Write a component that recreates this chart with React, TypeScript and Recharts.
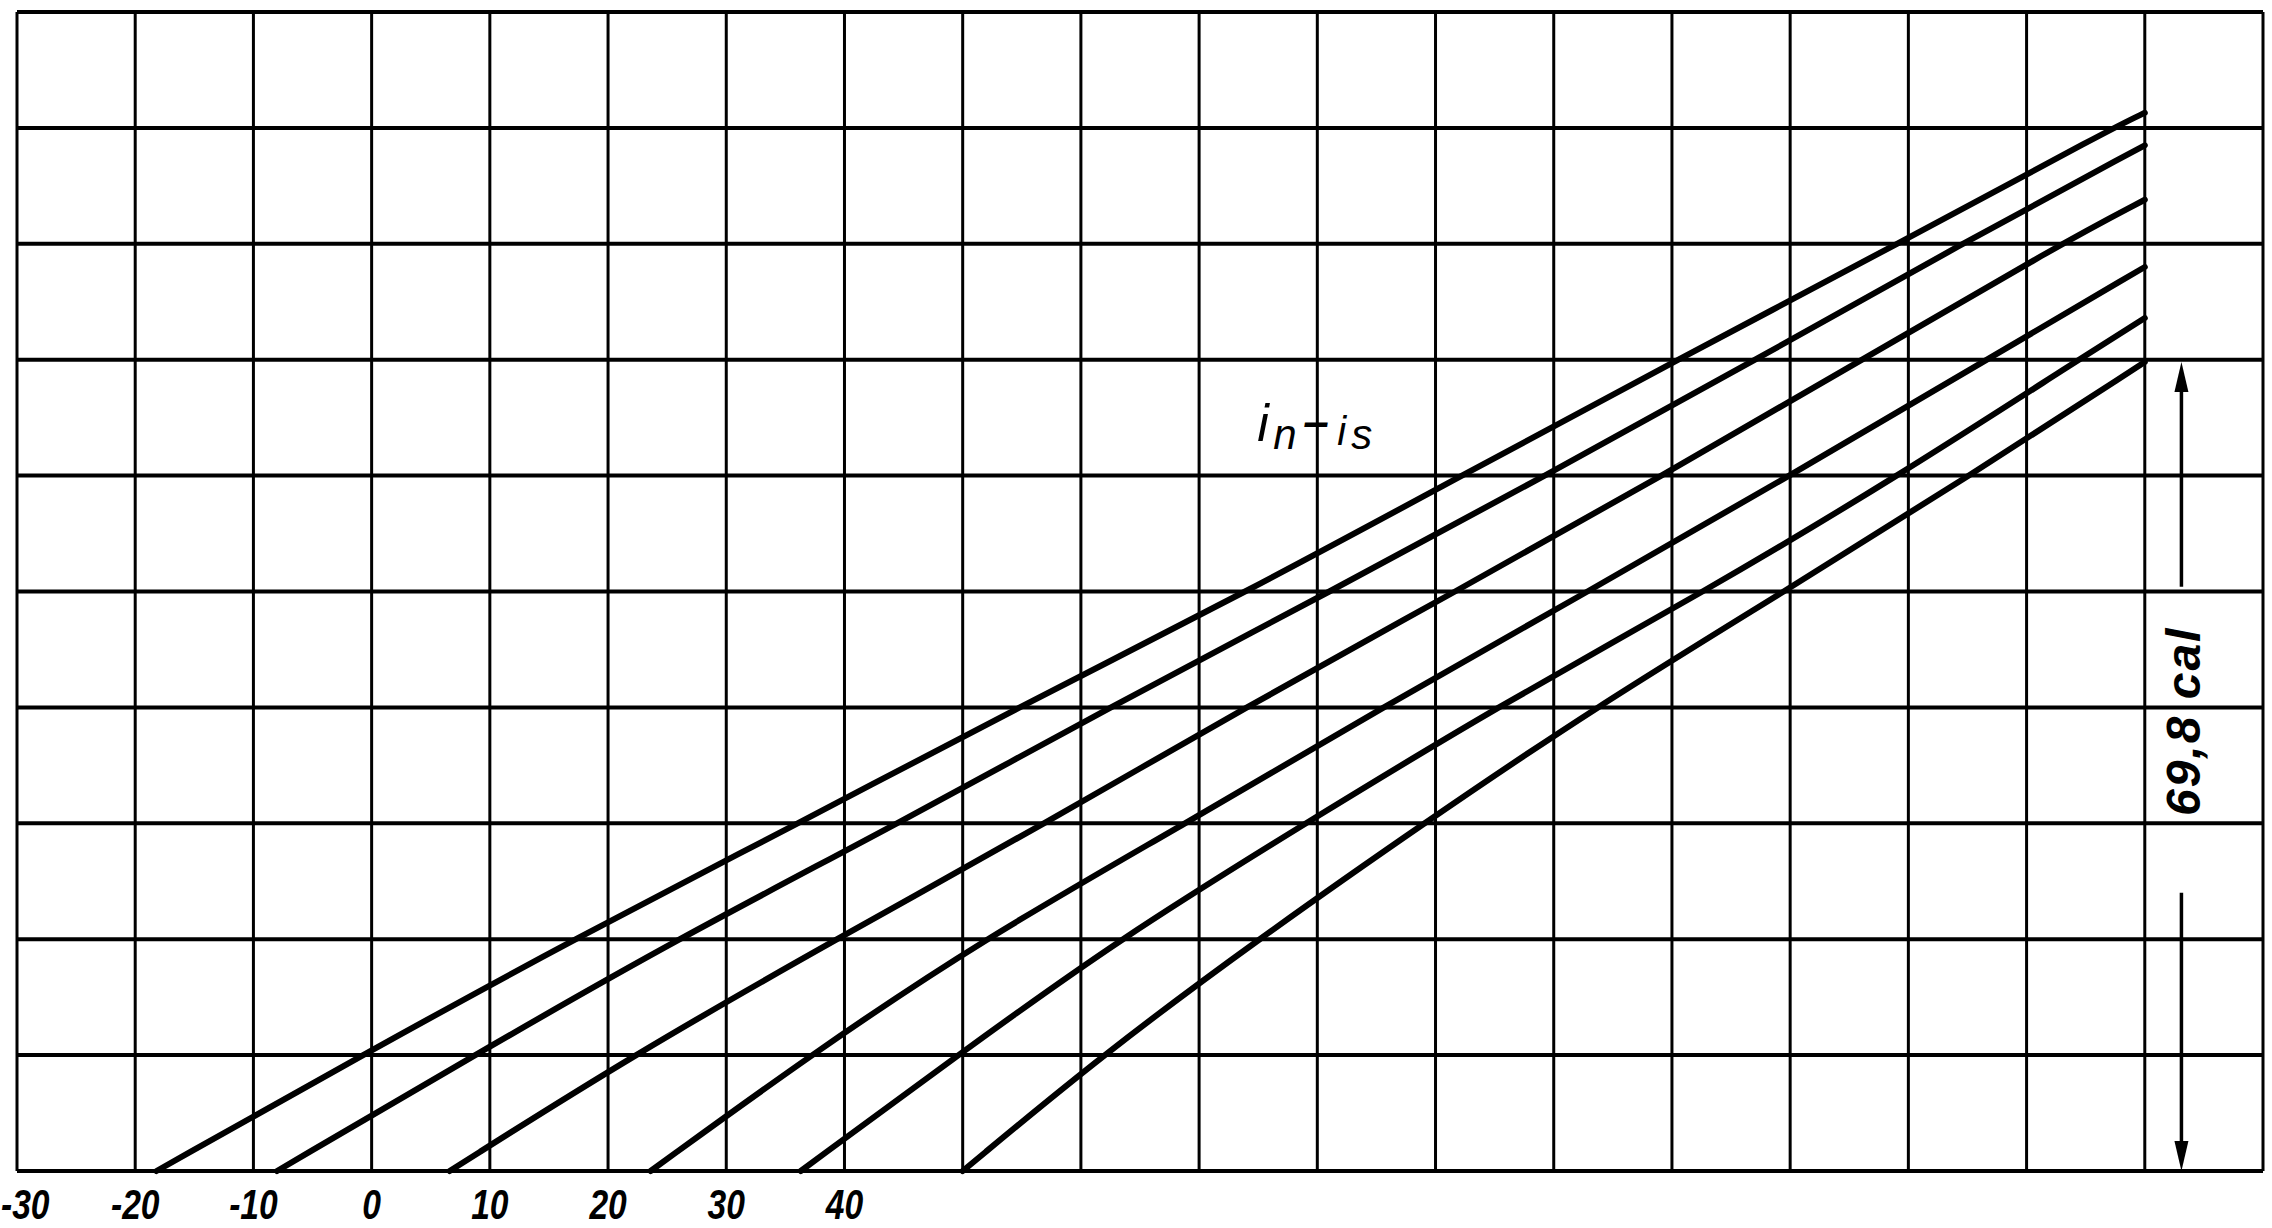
import { LineChart, Line, XAxis, YAxis, CartesianGrid, ReferenceDot, ReferenceLine } from 'recharts';

// horizontal scale: one grid column = 10 units
const xGrid = [-30, -20, -10, 0, 10, 20, 30, 40, 50, 60, 70, 80, 90, 100, 110, 120, 130, 140, 150, 160];
const xLabels = [-30, -20, -10, 0, 10, 20, 30, 40];
// vertical scale in cal: one grid row = 10 cal
const yGrid = [0, 10, 20, 30, 40, 50, 60, 70, 80, 90, 100];

// the six curves as [x, cal]
const curve1 = [[-18.2, 0], [-0.8, 10], [17.1, 20], [36.1, 30], [54.7, 40], [74.1, 50], [92.2, 60], [110.5, 70], [129.1, 80], [147.3, 90], [150, 91.3]];
const curve2 = [[-8, 0], [8.7, 10], [25.8, 20], [44.6, 30], [62.4, 40], [81.1, 50], [99.3, 60], [117.1, 70], [134.5, 80], [150, 88.5]];
const curve3 = [[6.6, 0], [22.1, 10], [39.3, 20], [57, 30], [73.9, 40], [91.7, 50], [109.2, 60], [126.1, 70], [142.9, 80], [150, 83.8]];
const curve4 = [[23.6, 0], [37.1, 10], [51.7, 20], [68.9, 30], [85.5, 40], [102.9, 50], [120, 60], [136.6, 70], [150, 78]];
const curve5 = [[36.3, 0], [49.6, 10], [63.2, 20], [79, 30], [95.1, 40], [112.8, 50], [129.2, 60], [144.4, 70], [150, 73.6]];
const curve6 = [[50, 0], [61.8, 10], [75, 20], [89, 30], [103.5, 40], [119.5, 50], [135.2, 60], [150, 69.8]];

const curves = [curve1, curve2, curve3, curve4, curve5, curve6];

// dimension arrow on the right: 69,8 cal
const spanValue = 69.8;
const arrowX = 153.1;
const arrowGap = [50.4, 24]; // where the arrow breaks for the text
const spanLabelY = 38.8;
const labelPos = { x: 80, y: 64.5 }; // i_n - i_s

const INK = '#000';

const XTick = ({ x, y, payload }: any) => {
  if (!xLabels.includes(payload.value)) return <g />;
  // the first label sits on the left border, keep it on the page
  const first = payload.value === xLabels[0];
  return (
    <text
      transform={`translate(${first ? 1 : x},${y + 46}) scale(0.8,1)`}
      textAnchor={first ? 'start' : 'middle'}
      fill={INK}
      fontFamily="'Liberation Sans Narrow', 'Liberation Sans', sans-serif"
      fontWeight="bold"
      fontStyle="italic"
      fontSize={42}
    >
      {payload.value}
    </text>
  );
};

const ArrowUp = ({ x1, y1, x2, y2 }: any) => (
  <g>
    <line x1={x1} y1={y1 + 20} x2={x2} y2={y2} stroke={INK} strokeWidth={3.5} />
    <polygon points={`${x1},${y1} ${x1 - 7},${y1 + 30} ${x1 + 7},${y1 + 30}`} fill={INK} />
  </g>
);

const ArrowDown = ({ x1, y1, x2, y2 }: any) => (
  <g>
    <line x1={x1} y1={y1} x2={x2} y2={y2 - 20} stroke={INK} strokeWidth={3.5} />
    <polygon points={`${x2},${y2} ${x2 - 7},${y2 - 30} ${x2 + 7},${y2 - 30}`} fill={INK} />
  </g>
);

export default function App() {
  return (
    <div style={{ position: 'absolute', left: 0, top: 0, background: '#fff' }}>
      <LineChart width={2272} height={1228} margin={{ top: 12, right: 9, bottom: 7, left: 17 }}>
        <CartesianGrid horizontal={false} stroke={INK} strokeWidth={3} />
        <CartesianGrid vertical={false} stroke={INK} strokeWidth={4} />
        <XAxis
          type="number"
          dataKey="x"
          domain={[-30, 160]}
          ticks={xGrid}
          interval={0}
          height={50}
          axisLine={false}
          tickLine={false}
          tickSize={0}
          tick={<XTick />}
          allowDataOverflow
        />
        <YAxis type="number" dataKey="y" domain={[0, 100]} ticks={yGrid} hide width={0} />
        {curves.map((c, i) => (
          <Line
            key={`curve-${i}`}
            data={c.map(([x, y]) => ({ x, y }))}
            dataKey="y"
            type="basis"
            stroke={INK}
            strokeWidth={6}
            strokeLinecap="round"
            dot={false}
            isAnimationActive={false}
          />
        ))}
        <ReferenceLine
          segment={[{ x: arrowX, y: spanValue }, { x: arrowX, y: arrowGap[0] }]}
          shape={<ArrowUp />}
        />
        <ReferenceLine
          segment={[{ x: arrowX, y: arrowGap[1] }, { x: arrowX, y: 0 }]}
          shape={<ArrowDown />}
        />
        <ReferenceDot
          x={arrowX}
          y={spanLabelY}
          r={0}
          shape={(p: any) => (
            <text
              transform={`translate(${p.cx + 19},${p.cy}) rotate(-90)`}
              textAnchor="middle"
              fill={INK}
              fontFamily="'Liberation Sans', sans-serif"
              fontWeight="bold"
              fontStyle="italic"
              fontSize={48}
              letterSpacing={2}
            >
              {`${String(spanValue).replace('.', ',')} cal`}
            </text>
          )}
        />
        <ReferenceDot
          x={labelPos.x}
          y={labelPos.y}
          r={0}
          shape={(p: any) => (
            <text
              y={p.cy + 18}
              fill={INK}
              fontFamily="'Liberation Sans', sans-serif"
              fontStyle="italic"
              fontSize={52}
            >
              <tspan x={p.cx - 60}>i</tspan>
              <tspan x={p.cx - 44} dy={8} fontSize={42}>n</tspan>
              <tspan x={p.cx - 14} dy={-12} fontSize={46} fontWeight="bold">–</tspan>
              <tspan x={p.cx + 20} dy={8} fontSize={40}>i</tspan>
              <tspan x={p.cx + 34} dy={4} fontSize={42}>s</tspan>
            </text>
          )}
        />
      </LineChart>
    </div>
  );
}
